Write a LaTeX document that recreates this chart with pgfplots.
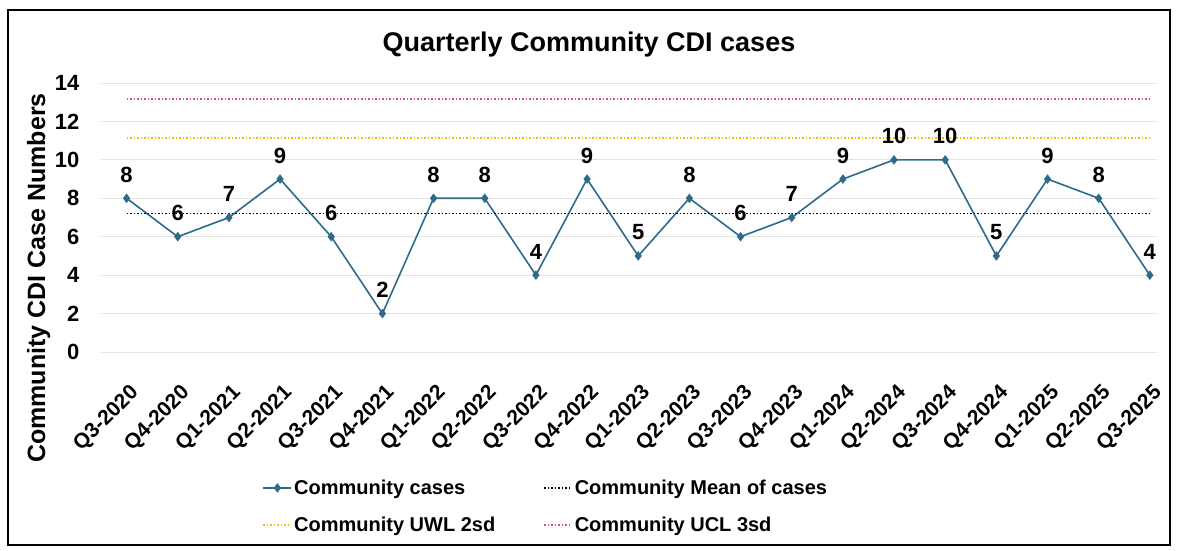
\documentclass[border=0pt]{standalone}
\usepackage{pgfplots}
\pgfplotsset{compat=1.18}
\usepackage{fontspec}
\setmainfont{Liberation Sans}
\definecolor{caseblue}{RGB}{46,106,138}
\definecolor{uwlyellow}{RGB}{232,192,0}
\definecolor{uclred}{RGB}{226,80,120}
\definecolor{gridgray}{RGB}{228,228,228}
\begin{document}
\begin{tikzpicture}
\path[use as bounding box] (0pt,0pt) rectangle (1178pt,551pt);
\draw[line width=1.5pt] (8pt,6pt) rectangle (1170pt,541pt);
\node[font=\fontsize{27}{30}\selectfont\bfseries] at (589pt,506pt) {Quarterly Community CDI cases};
\begin{axis}[
  at={(101pt,199pt)}, anchor=south west,
  scale only axis, width=1056pt, height=269pt,
  xmin=-0.5, xmax=20.14, ymin=0, ymax=14,
  ytick={0,2,...,14},
  xtick={0,...,20},
  xticklabels={Q3-2020,Q4-2020,Q1-2021,Q2-2021,Q3-2021,Q4-2021,Q1-2022,Q2-2022,Q3-2022,Q4-2022,Q1-2023,Q2-2023,Q3-2023,Q4-2023,Q1-2024,Q2-2024,Q3-2024,Q4-2024,Q1-2025,Q2-2025,Q3-2025},
  axis line style={draw=none},
  major tick length=0pt,
  ymajorgrids, grid style={gridgray, line width=0.8pt},
  /pgf/number format/assume math mode=true,
  yticklabel style={font=\fontsize{22}{24}\selectfont\bfseries, xshift=-18pt},
  xticklabel style={font=\fontsize{21}{23}\selectfont\bfseries, rotate=45, anchor=north east, xshift=-17pt, yshift=-20pt},
  ylabel={Community CDI Case Numbers},
  ylabel style={font=\fontsize{25}{27}\selectfont\bfseries, at={(axis description cs:-0.059,0.275)}, anchor=center, rotate=0},
  legend style={at={(0.150,-0.46)}, anchor=north west, draw=none, fill=none,
    font=\fontsize{20}{22}\selectfont\bfseries, row sep=17pt,
    /tikz/every even column/.append style={column sep=46pt}},
  legend columns=2, legend cell align=left,
  legend image code/.code={\draw[mark repeat=2,mark phase=2,#1] plot coordinates {(0pt,0pt)(14pt,0pt)(28pt,0pt)};},
]
\addplot[caseblue, line width=1.6pt, mark=diamond*, mark size=3.5pt,
  nodes near coords, nodes near coords style={font=\fontsize{22}{24}\selectfont\bfseries, text=black, anchor=south, inner sep=0pt, yshift=15pt}]
  coordinates {(0,8)(1,6)(2,7)(3,9)(4,6)(5,2)(6,8)(7,8)(8,4)(9,9)(10,5)(11,8)(12,6)(13,7)(14,9)(15,10)(16,10)(17,5)(18,9)(19,8)(20,4)};
\addlegendentry{Community cases}
\addplot[black, line width=1.5pt, dotted] coordinates {(0,7.22)(20,7.22)};
\addlegendentry{Community Mean of cases}
\addplot[uwlyellow, line width=1.5pt, dotted] coordinates {(0,11.14)(20,11.14)};
\addlegendentry{Community UWL 2sd}
\addplot[uclred, line width=1.5pt, dotted] coordinates {(0,13.17)(20,13.17)};
\addlegendentry{Community UCL 3sd}
\end{axis}
\end{tikzpicture}
\end{document}
